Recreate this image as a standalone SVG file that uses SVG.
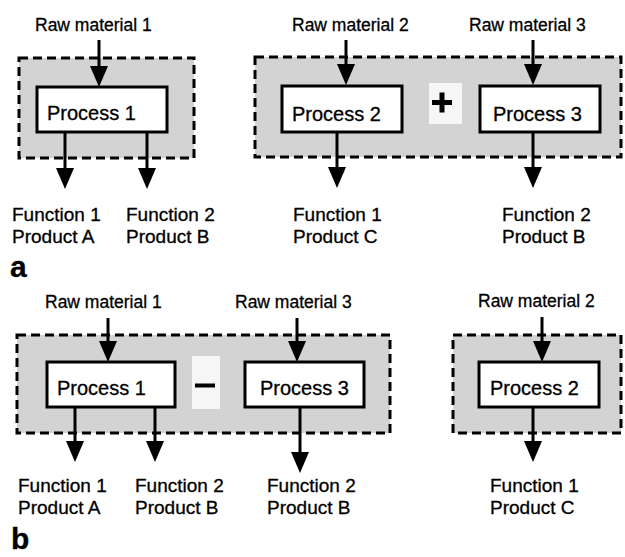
<svg xmlns="http://www.w3.org/2000/svg" width="625" height="557" viewBox="0 0 625 557">
<defs>
<marker id="ah" markerUnits="userSpaceOnUse" markerWidth="22" markerHeight="20" refX="0" refY="9" orient="auto" viewBox="0 0 22 18" overflow="visible">
<path d="M0,0 L21,9 L0,18 Z" fill="#000"/>
</marker>
</defs>
<style>
.grp{fill:#d3d3d3;stroke:#000;stroke-width:3;stroke-dasharray:9 5}
.proc{fill:#fff;stroke:#000;stroke-width:3}
.t{font-family:"Liberation Sans",Arial,sans-serif;fill:#000;stroke:#000;stroke-width:0.3}
.raw{font-size:17.5px}
.pt{font-size:20px}
.ft{font-size:19px}
.lbl{font-size:30px;font-weight:bold}
.op{fill:#f6f6f6}
.conn{stroke:#000;stroke-width:3;fill:none;marker-end:url(#ah)}
</style>
<rect width="625" height="557" fill="#fff"/>

<!-- group boxes -->
<g id="group-a1"><rect class="grp" x="19" y="58" width="175" height="100"/></g>
<g id="group-a2"><rect class="grp" x="255" y="57" width="366" height="100"/></g>
<g id="group-b1"><rect class="grp" x="17" y="335" width="373" height="98"/></g>
<g id="group-b2"><rect class="grp" x="453" y="335" width="168" height="98"/></g>

<!-- operators -->
<g id="plus-op">
<rect class="op" x="429" y="83" width="33" height="41"/>
<rect x="432" y="100" width="20" height="5" fill="#000"/>
<rect x="439.5" y="92.5" width="5" height="20" fill="#000"/>
</g>
<g id="minus-op">
<rect class="op" x="192" y="356" width="28" height="53"/>
<rect x="195" y="383.5" width="20" height="4" fill="#000"/>
</g>

<!-- connectors -->
<g id="connectors">
<line class="conn" x1="99" y1="40" x2="99" y2="66"/>
<line class="conn" x1="65" y1="132" x2="65" y2="168"/>
<line class="conn" x1="147" y1="132" x2="147" y2="168"/>
<line class="conn" x1="346" y1="40" x2="346" y2="64"/>
<line class="conn" x1="337" y1="132" x2="337" y2="167"/>
<line class="conn" x1="533" y1="40" x2="533" y2="64"/>
<line class="conn" x1="533" y1="132" x2="533" y2="167"/>
<line class="conn" x1="108" y1="318" x2="108" y2="341"/>
<line class="conn" x1="75" y1="407" x2="75" y2="441"/>
<line class="conn" x1="155" y1="407" x2="155" y2="441"/>
<line class="conn" x1="297" y1="318" x2="297" y2="341"/>
<line class="conn" x1="300" y1="407" x2="300" y2="452"/>
<line class="conn" x1="542" y1="317" x2="542" y2="341"/>
<line class="conn" x1="533" y1="407" x2="533" y2="441"/>
</g>

<!-- process nodes -->
<g id="a-process1"><rect class="proc" x="37" y="87" width="130" height="45"/><text class="t pt" x="47" y="120">Process 1</text></g>
<g id="a-process2"><rect class="proc" x="282" y="86" width="120" height="46"/><text class="t pt" x="292" y="121">Process 2</text></g>
<g id="a-process3"><rect class="proc" x="480" y="86" width="120" height="46"/><text class="t pt" x="493" y="121">Process 3</text></g>
<g id="b-process1"><rect class="proc" x="47" y="362" width="128" height="45"/><text class="t pt" x="57" y="395">Process 1</text></g>
<g id="b-process3"><rect class="proc" x="245" y="362" width="119" height="45"/><text class="t pt" x="260" y="395">Process 3</text></g>
<g id="b-process2"><rect class="proc" x="479" y="362" width="120" height="45"/><text class="t pt" x="490" y="395">Process 2</text></g>

<!-- raw materials -->
<g id="a-raw1"><text class="t raw" x="35" y="31">Raw material 1</text></g>
<g id="a-raw2"><text class="t raw" x="292" y="31">Raw material 2</text></g>
<g id="a-raw3"><text class="t raw" x="469" y="31">Raw material 3</text></g>
<g id="b-raw1"><text class="t raw" x="45" y="308">Raw material 1</text></g>
<g id="b-raw3"><text class="t raw" x="235" y="308">Raw material 3</text></g>
<g id="b-raw2"><text class="t raw" x="478" y="307">Raw material 2</text></g>

<!-- outputs -->
<g id="a-out1"><text class="t ft" x="12" y="221">Function 1</text><text class="t ft" x="12" y="243">Product A</text></g>
<g id="a-out2"><text class="t ft" x="126" y="221">Function 2</text><text class="t ft" x="126" y="243">Product B</text></g>
<g id="a-out3"><text class="t ft" x="293" y="221">Function 1</text><text class="t ft" x="293" y="243">Product C</text></g>
<g id="a-out4"><text class="t ft" x="502" y="221">Function 2</text><text class="t ft" x="502" y="243">Product B</text></g>
<g id="b-out1"><text class="t ft" x="18" y="492">Function 1</text><text class="t ft" x="18" y="514">Product A</text></g>
<g id="b-out2"><text class="t ft" x="135" y="492">Function 2</text><text class="t ft" x="135" y="514">Product B</text></g>
<g id="b-out3"><text class="t ft" x="267" y="492">Function 2</text><text class="t ft" x="267" y="514">Product B</text></g>
<g id="b-out4"><text class="t ft" x="490" y="492">Function 1</text><text class="t ft" x="490" y="514">Product C</text></g>

<!-- panel labels -->
<text class="t lbl" x="10" y="277">a</text>
<text class="t lbl" x="11" y="549">b</text>
</svg>
